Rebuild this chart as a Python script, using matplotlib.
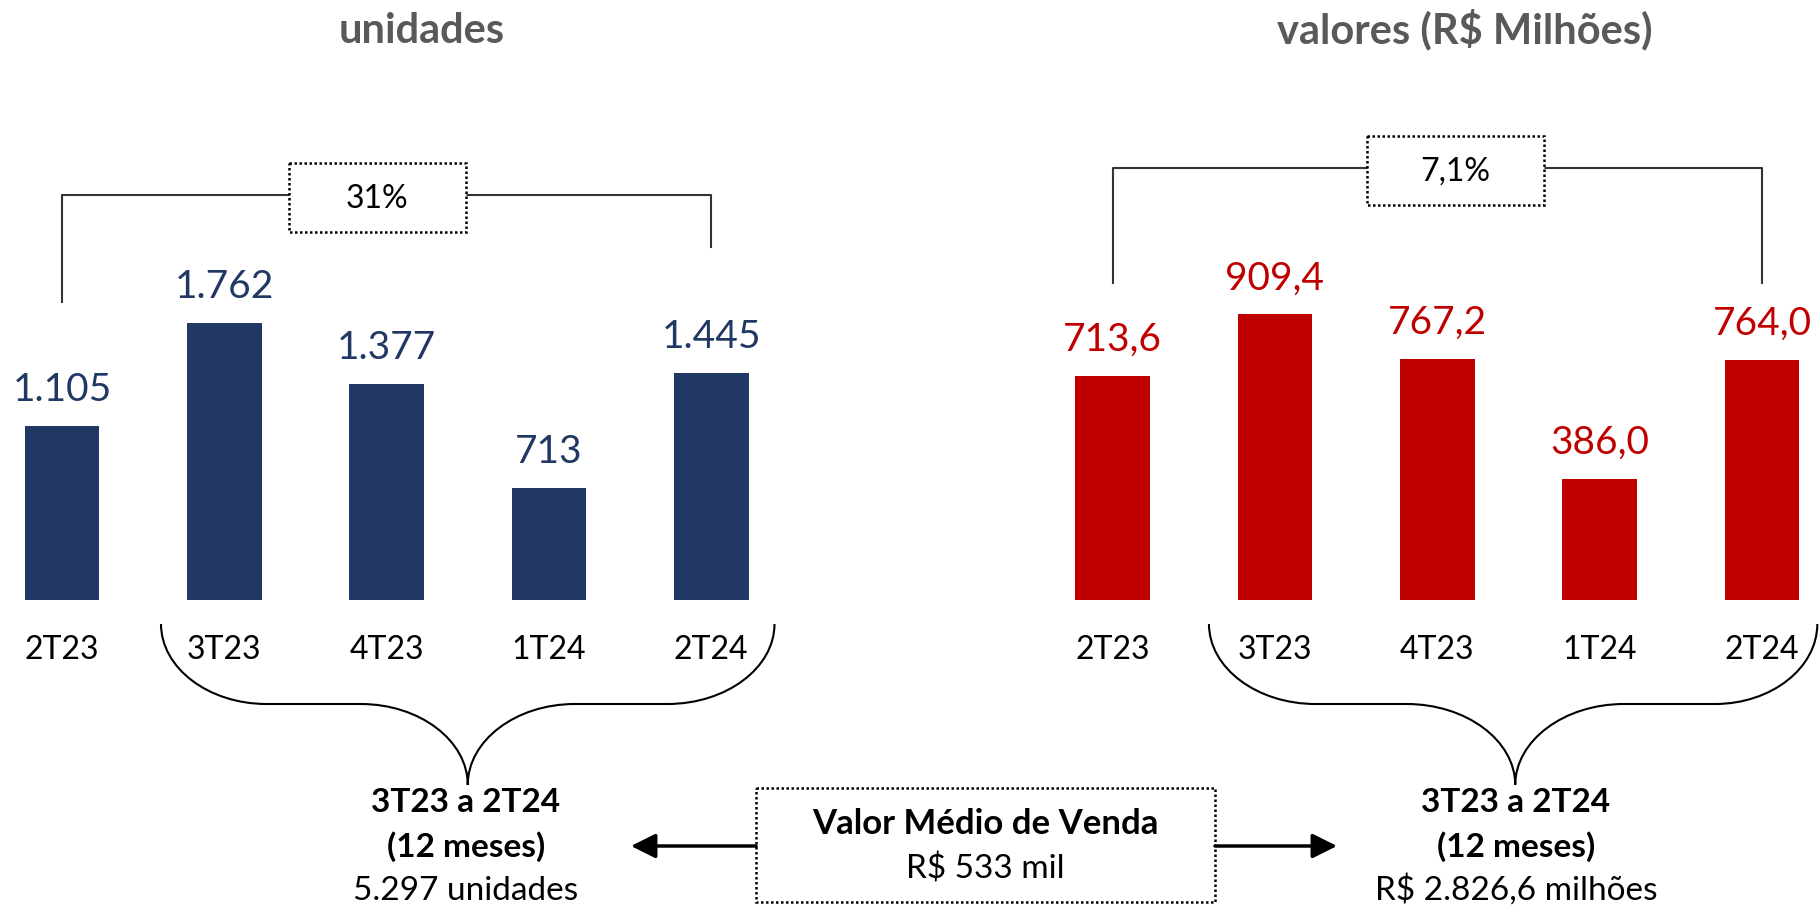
import matplotlib
matplotlib.use('Agg')
import matplotlib.pyplot as plt
from matplotlib.path import Path
from matplotlib.patches import PathPatch, Rectangle
from matplotlib.transforms import blended_transform_factory

plt.rcParams['font.family'] = ['Lato', 'DejaVu Sans']

# data
trimestres = ['2T23', '3T23', '4T23', '1T24', '2T24']
unidades = [1105, 1762, 1377, 713, 1445]
valores = [713.6, 909.4, 767.2, 386.0, 764.0]
valor_medio_mil = 533

NAVY = '#213864'
RED = '#C00000'
GREY = '#595959'

W, H = 1820, 910


def br_num(v, dec=0):
    s = f'{v:,.{dec}f}'
    return s.replace(',', 'X').replace('.', ',').replace('X', '.')


fig = plt.figure(figsize=(W / 100, H / 100), dpi=100)

# overlay axes in pixel coords for the annotations
ov = fig.add_axes([0, 0, 1, 1])
ov.set_xlim(0, W)
ov.set_ylim(H, 0)
ov.axis('off')


def bar_axes(first_center_px, step_px):
    left = first_center_px - 0.35 * step_px
    width = 4.7 * step_px
    ax = fig.add_axes([left / W, 1 - 600 / H, width / W, 600 / H])
    ax.set_xlim(-0.35, 4.35)
    ax.patch.set_alpha(0)
    ax.axis('off')
    return ax


axL = bar_axes(62, 162.3)
axR = bar_axes(1112.5, 162.4)
axL.set_ylim(0, 3820)
axR.set_ylim(0, 1910)


def brace(ax, x0, x1, x2, xt, x5, x6, x7):
    # curly brace under the last four quarters; x in bar data, y in pixels
    tr = blended_transform_factory(ax.transData, ov.transData)
    y0, y1, yt = 624, 704, 785
    verts = [(x0, y0), (x0, y0 + 0.55 * (y1 - y0)), (x0 + 0.45 * (x1 - x0), y1), (x1, y1),
             (x2, y1),
             (x2 + 0.55 * (xt - x2), y1), (xt, y1 + 0.45 * (yt - y1)), (xt, yt),
             (xt, y1 + 0.45 * (yt - y1)), (x5 - 0.55 * (x5 - xt), y1), (x5, y1),
             (x6, y1),
             (x7 - 0.45 * (x7 - x6), y1), (x7, y0 + 0.55 * (y1 - y0)), (x7, y0)]
    codes = [Path.MOVETO, Path.CURVE4, Path.CURVE4, Path.CURVE4,
             Path.LINETO,
             Path.CURVE4, Path.CURVE4, Path.CURVE4,
             Path.CURVE4, Path.CURVE4, Path.CURVE4,
             Path.LINETO,
             Path.CURVE4, Path.CURVE4, Path.CURVE4]
    ov.add_patch(PathPatch(Path(verts, codes), transform=tr, fill=False,
                           lw=1.5, edgecolor='black'))


def bracket(ax, y_top, yl, yr, box_cx, box_cy, text):
    tr = blended_transform_factory(ax.transData, ov.transData)
    ov.plot([0, 0, 4, 4], [yl, y_top, y_top, yr], color='#333333', lw=1.5,
            transform=tr, zorder=2)
    bw, bh = 177, 69
    ov.add_patch(Rectangle((box_cx - bw / 2, box_cy - bh / 2), bw, bh,
                           facecolor='white', edgecolor='black', lw=1.8,
                           linestyle=(0, (1, 1)), zorder=3))
    ov.text(box_cx, box_cy + 11, text, ha='center', va='baseline',
            fontsize=23, color='black', zorder=4)


def chart(ax, vals, color, dec, title, title_x):
    x = list(range(len(trimestres)))
    ax.bar(x, vals, width=0.46, color=color)
    tr = blended_transform_factory(ax.transData, ov.transData)
    for i, v in enumerate(vals):
        ax.annotate(br_num(v, dec), (i, v), xytext=(0, 18), textcoords='offset points',
                    ha='center', va='baseline', fontsize=28, color=color)
        ov.text(i, 659, trimestres[i], transform=tr, ha='center', va='baseline',
                fontsize=23, color='black')
    ov.text(title_x, 43, title, ha='center', va='baseline', fontsize=30,
            fontweight='bold', color=GREY)


chart(axL, unidades, NAVY, 0, 'unidades', 422)
chart(axR, valores, RED, 1, 'valores (R$ Milhões)', 1465)

cresc_un = (unidades[-1] / unidades[0] - 1) * 100
cresc_val = (valores[-1] / valores[0] - 1) * 100
bracket(axL, 195, 302, 247, 377, 197, br_num(cresc_un, 0) + '%')
bracket(axR, 168, 283, 283, 1455, 170, br_num(cresc_val, 1) + '%')

brace(axL, 0.61, 1.26, 1.84, 2.5, 3.16, 3.73, 4.39)
brace(axR, 0.594, 1.25, 1.81, 2.48, 3.15, 3.71, 4.34)

total_un = sum(unidades[1:])
total_val = sum(valores[1:])

for cx, last in [(466, br_num(total_un) + ' unidades'),
                 (1516, 'R$ ' + br_num(total_val, 1) + ' milhões')]:
    ov.text(cx, 812, '3T23 a 2T24', ha='center', va='baseline', fontsize=24,
            fontweight='bold')
    ov.text(cx, 857, '(12 meses)', ha='center', va='baseline', fontsize=24,
            fontweight='bold')
    ov.text(cx, 900, last, ha='center', va='baseline', fontsize=24)

# central box with average price
ov.add_patch(Rectangle((756, 788), 459, 114, facecolor='white', edgecolor='black',
                       lw=1.8, linestyle=(0, (1, 1))))
ov.text(985, 834, 'Valor Médio de Venda', ha='center', va='baseline', fontsize=25,
        fontweight='bold')
ov.text(985, 879, f'R$ {valor_medio_mil} mil', ha='center', va='baseline', fontsize=24)

arrow = dict(arrowstyle='-|>,head_length=1.0,head_width=0.5', color='black',
             lw=2.5, mutation_scale=15, shrinkA=0, shrinkB=0)
ov.annotate('', xy=(631, 846), xytext=(756, 846), arrowprops=arrow)
ov.annotate('', xy=(1337, 846), xytext=(1215, 846), arrowprops=arrow)

fig.savefig('out.png', dpi=100)
